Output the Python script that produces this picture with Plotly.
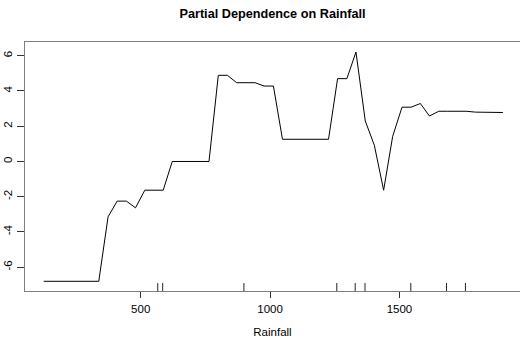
import plotly.graph_objects as go

# Partial dependence grid (Rainfall) and values
rainfall = [125, 161, 196, 232, 267, 303, 338, 374, 409, 445, 480, 516, 551, 587,
            622, 658, 693, 729, 764, 800, 835, 871, 906, 942, 977, 1013, 1048,
            1084, 1119, 1155, 1190, 1226, 1261, 1297, 1332, 1368, 1403, 1439,
            1474, 1510, 1545, 1581, 1616, 1652, 1687, 1723, 1758, 1794, 1829,
            1865, 1900]
pd_value = [-6.8, -6.8, -6.8, -6.8, -6.8, -6.8, -6.8, -3.14, -2.25, -2.25, -2.63,
            -1.63, -1.63, -1.63, 0.0, 0.0, 0.0, 0.0, 0.0, 4.89, 4.89, 4.47, 4.47,
            4.47, 4.28, 4.28, 1.26, 1.26, 1.26, 1.26, 1.26, 1.26, 4.70, 4.70,
            6.21, 2.30, 0.92, -1.63, 1.43, 3.08, 3.08, 3.29, 2.58, 2.85, 2.85,
            2.85, 2.85, 2.80, 2.78, 2.78, 2.78]
# Rug (deciles of Rainfall)
rug_deciles = [566, 585, 899, 1258, 1329, 1367, 1544, 1682, 1755]
x_ticks = [500, 1000, 1500]
y_ticks = [-6, -4, -2, 0, 2, 4, 6]

fig = go.Figure()
fig.add_trace(go.Scatter(x=rainfall, y=pd_value, mode="lines",
                         line=dict(color="black", width=1), hoverinfo="skip"))

for r in rug_deciles:
    fig.add_shape(type="line", xref="x", yref="paper", x0=r, x1=r, y0=0, y1=0.032,
                  line=dict(color="#222", width=1))

font = "Liberation Sans, Arial, sans-serif"
fig.update_layout(
    width=520, height=344,
    margin=dict(l=24.5, r=0, t=41.5, b=53),
    paper_bgcolor="white", plot_bgcolor="white",
    showlegend=False,
    font=dict(family=font, size=11.5, color="black"),
    title=dict(text="<b>Partial Dependence on Rainfall</b>", x=0.5, xanchor="center",
               y=1 - 14 / 344, yanchor="middle", xref="paper",
               font=dict(family=font, size=12.7, color="black")),
    xaxis=dict(range=[52.9, 1966], tickvals=x_ticks, ticktext=[str(v) for v in x_ticks],
               showgrid=False, zeroline=False, showline=True, mirror=True,
               linecolor="#7f7f7f", linewidth=1, ticks="outside", ticklen=6,
               tickcolor="#333", tickwidth=1, ticklabelstandoff=1,
               title=dict(text="Rainfall", standoff=14, font=dict(size=11.5))),
    yaxis=dict(range=[-7.35, 6.78], tickvals=y_ticks, ticktext=[str(v) for v in y_ticks],
               showgrid=False, zeroline=False, showline=True, mirror=True,
               linecolor="#7f7f7f", linewidth=1, ticks="outside", ticklen=7,
               tickcolor="#333", tickwidth=1, tickangle=-90, ticklabelstandoff=0),
)

fig.write_html("out.html", config={"displayModeBar": False, "staticPlot": True},
               post_script="document.body.style.margin='0';")
